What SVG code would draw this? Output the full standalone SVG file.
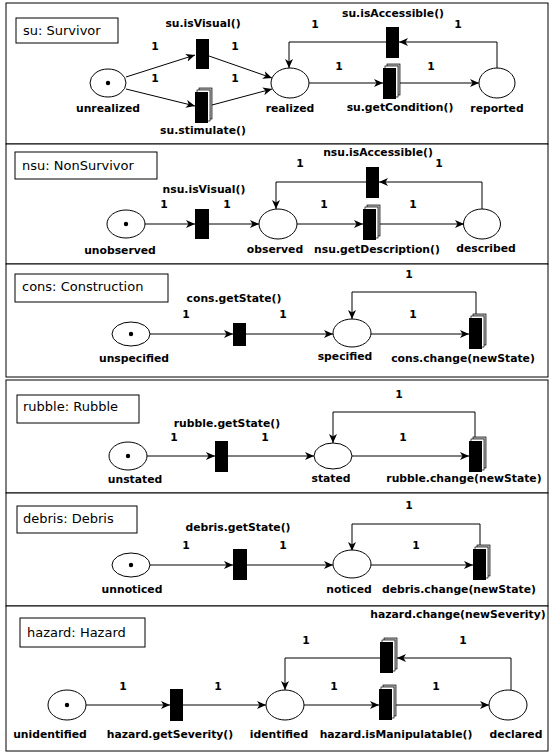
<svg xmlns="http://www.w3.org/2000/svg" xmlns:xlink="http://www.w3.org/1999/xlink" width="552" height="754" viewBox="0 0 552 754">
<style>
.panel{fill:#fff;stroke:#000;stroke-width:1}
.title{fill:#fff;stroke:#000;stroke-width:1}
.tt{font-family:"DejaVu Sans",sans-serif;font-size:13px;fill:#000}
.pl{fill:#fff;stroke:#000;stroke-width:1}
.tok{fill:#000}
.tr{fill:#000}
.lb{font-family:"DejaVu Sans",sans-serif;font-size:10.8px;font-weight:bold;fill:#000;text-anchor:middle}
.w{font-family:"DejaVu Sans",sans-serif;font-size:10.8px;font-weight:bold;fill:#000;text-anchor:middle}
.e{fill:none;stroke:#000;stroke-width:1;marker-end:url(#ah)}
</style>
<defs>
<marker id="ah" markerUnits="userSpaceOnUse" markerWidth="10" markerHeight="8" refX="9" refY="4" orient="auto">
<path d="M0,0 L9,4 L0,8 L2.5,4 z" fill="#000"/>
</marker>
<g id="stack">
<rect x="4" y="-4" width="13" height="31" fill="#bbb" stroke="#000" stroke-width="0.7"/>
<rect x="2" y="-2" width="13" height="31" fill="#fff" stroke="#000" stroke-width="0.7"/>
<rect x="0" y="0" width="13" height="31" fill="#000"/>
</g>
</defs>
<rect width="552" height="754" fill="#fff"/>
<g id="panels">
<rect class="panel" x="6" y="3" width="542" height="141"/>
<rect class="panel" x="6" y="144" width="542" height="120"/>
<rect class="panel" x="6" y="264" width="542" height="113"/>
<rect class="panel" x="6" y="380" width="542" height="113"/>
<rect class="panel" x="6" y="493" width="542" height="113"/>
<rect class="panel" x="6" y="606" width="542" height="145"/>
</g>
<g id="connectors">
<path class="e" d="M126,77 L195,55"/>
<path class="e" d="M126,89 L195,106"/>
<path class="e" d="M209,56 L272,78"/>
<path class="e" d="M212,105 L272,89"/>
<path class="e" d="M309,83 H383"/>
<path class="e" d="M400,83 H479"/>
<path class="e" d="M497,68 V42 H399"/>
<path class="e" d="M386,42 H289 V68"/>
<path class="e" d="M145,224 H195"/>
<path class="e" d="M209,224 H259"/>
<path class="e" d="M297,224 H363"/>
<path class="e" d="M380,224 H464"/>
<path class="e" d="M482,209 V182 H379"/>
<path class="e" d="M366,182 H276 V209"/>
<path class="e" d="M150,334 H233"/>
<path class="e" d="M246,334 H333"/>
<path class="e" d="M371,334 H469"/>
<path class="e" d="M476,314 V292 H352 V319"/>
<path class="e" d="M147,456 H215"/>
<path class="e" d="M228,456 H314"/>
<path class="e" d="M352,456 H469"/>
<path class="e" d="M475,437 V412 H333 V443"/>
<path class="e" d="M150,565 H233"/>
<path class="e" d="M247,565 H333"/>
<path class="e" d="M371,565 H473"/>
<path class="e" d="M480,545 V524 H352 V551"/>
<path class="e" d="M86,705 H170"/>
<path class="e" d="M183,705 H266"/>
<path class="e" d="M304,705 H379"/>
<path class="e" d="M396,705 H489"/>
<path class="e" d="M511,690 V658 H397"/>
<path class="e" d="M380,658 H285 V690"/>
</g>
<g id="weights">
<text class="w" x="155" y="50">1</text><text class="w" x="235" y="50">1</text>
<text class="w" x="155" y="82">1</text><text class="w" x="235" y="82">1</text>
<text class="w" x="315" y="28">1</text><text class="w" x="458" y="28">1</text>
<text class="w" x="339" y="70">1</text><text class="w" x="431" y="70">1</text>
<text class="w" x="164" y="208">1</text><text class="w" x="227" y="208">1</text>
<text class="w" x="324" y="208">1</text><text class="w" x="413" y="208">1</text>
<text class="w" x="300" y="167">1</text><text class="w" x="439" y="167">1</text>
<text class="w" x="186" y="318">1</text><text class="w" x="283" y="318">1</text>
<text class="w" x="413" y="318">1</text><text class="w" x="409" y="278">1</text>
<text class="w" x="174" y="441">1</text><text class="w" x="265" y="441">1</text>
<text class="w" x="403" y="441">1</text><text class="w" x="399" y="398">1</text>
<text class="w" x="186" y="549">1</text><text class="w" x="283" y="549">1</text>
<text class="w" x="416" y="549">1</text><text class="w" x="409" y="509">1</text>
<text class="w" x="123" y="690">1</text><text class="w" x="218" y="690">1</text>
<text class="w" x="334" y="690">1</text><text class="w" x="436" y="690">1</text>
<text class="w" x="306" y="644">1</text><text class="w" x="463" y="644">1</text>
</g>
<g id="su">
<rect class="title" x="16" y="18" width="102" height="25"/><text class="tt" x="23" y="35">su: Survivor</text>
</g>
<g id="su-unrealized"><ellipse class="pl" cx="108" cy="83" rx="18" ry="14"/><circle class="tok" cx="108" cy="83" r="2.2"/><text class="lb" x="108" y="112">unrealized</text></g>
<g id="su-isVisual"><rect class="tr" x="196" y="39" width="13" height="30"/><text class="lb" x="203" y="27">su.isVisual()</text></g>
<g id="su-stimulate"><use xlink:href="#stack" x="195" y="92"/><text class="lb" x="203" y="134">su.stimulate()</text></g>
<g id="su-realized"><ellipse class="pl" cx="290" cy="83" rx="19" ry="15"/><text class="lb" x="290" y="112">realized</text></g>
<g id="su-getCondition"><use xlink:href="#stack" x="383" y="68"/><text class="lb" x="400" y="111">su.getCondition()</text></g>
<g id="su-reported"><ellipse class="pl" cx="497" cy="83" rx="18" ry="15"/><text class="lb" x="497" y="112">reported</text></g>
<g id="su-isAccessible"><rect class="tr" x="386" y="27" width="13" height="31"/><text class="lb" x="393" y="17">su.isAccessible()</text></g>

<g id="nsu">
<rect class="title" x="15" y="152" width="142" height="27"/><text class="tt" x="22" y="170">nsu: NonSurvivor</text>
</g>
<g id="nsu-unobserved"><ellipse class="pl" cx="126" cy="224" rx="19" ry="14"/><circle class="tok" cx="126" cy="224" r="2.2"/><text class="lb" x="120" y="254">unobserved</text></g>
<g id="nsu-isVisual"><rect class="tr" x="195" y="209" width="14" height="30"/><text class="lb" x="204" y="193">nsu.isVisual()</text></g>
<g id="nsu-observed"><ellipse class="pl" cx="278" cy="224" rx="19" ry="15"/><text class="lb" x="275" y="253">observed</text></g>
<g id="nsu-getDescription"><use xlink:href="#stack" x="363" y="209"/><text class="lb" x="377" y="253">nsu.getDescription()</text></g>
<g id="nsu-described"><ellipse class="pl" cx="482" cy="224" rx="18.5" ry="15"/><text class="lb" x="486" y="252">described</text></g>
<g id="nsu-isAccessible"><rect class="tr" x="366" y="167" width="13" height="31"/><text class="lb" x="378" y="156">nsu.isAccessible()</text></g>

<g id="cons">
<rect class="title" x="15" y="274" width="153" height="28"/><text class="tt" x="22" y="291">cons: Construction</text>
</g>
<g id="cons-unspecified"><ellipse class="pl" cx="131" cy="334" rx="19" ry="12"/><circle class="tok" cx="131" cy="334" r="2.2"/><text class="lb" x="134" y="362">unspecified</text></g>
<g id="cons-getState"><rect class="tr" x="233" y="323" width="13" height="23"/><text class="lb" x="234" y="302">cons.getState()</text></g>
<g id="cons-specified"><ellipse class="pl" cx="352" cy="333" rx="19" ry="14"/><text class="lb" x="345" y="360">specified</text></g>
<g id="cons-change"><use xlink:href="#stack" x="469" y="318"/><text class="lb" x="463" y="362">cons.change(newState)</text></g>

<g id="rubble">
<rect class="title" x="17" y="395" width="122" height="28"/><text class="tt" x="23" y="411">rubble: Rubble</text>
</g>
<g id="rubble-unstated"><ellipse class="pl" cx="128" cy="456" rx="19" ry="14"/><circle class="tok" cx="128" cy="456" r="2.2"/><text class="lb" x="135" y="483">unstated</text></g>
<g id="rubble-getState"><rect class="tr" x="215" y="441" width="13" height="31"/><text class="lb" x="227" y="427">rubble.getState()</text></g>
<g id="rubble-stated"><ellipse class="pl" cx="333" cy="456" rx="19" ry="13"/><text class="lb" x="331" y="482">stated</text></g>
<g id="rubble-change"><use xlink:href="#stack" x="469" y="441"/><text class="lb" x="464" y="482">rubble.change(newState)</text></g>

<g id="debris">
<rect class="title" x="17" y="506" width="120" height="27"/><text class="tt" x="23" y="523">debris: Debris</text>
</g>
<g id="debris-unnoticed"><ellipse class="pl" cx="131" cy="565" rx="19" ry="12"/><circle class="tok" cx="131" cy="565" r="2.2"/><text class="lb" x="132" y="593">unnoticed</text></g>
<g id="debris-getState"><rect class="tr" x="233" y="549" width="14" height="31"/><text class="lb" x="238" y="531">debris.getState()</text></g>
<g id="debris-noticed"><ellipse class="pl" cx="352" cy="564" rx="19" ry="14"/><text class="lb" x="349" y="593">noticed</text></g>
<g id="debris-change"><use xlink:href="#stack" x="473" y="549"/><text class="lb" x="459" y="593">debris.change(newState)</text></g>

<g id="hazard">
<rect class="title" x="20" y="618" width="125" height="29"/><text class="tt" x="27" y="637">hazard: Hazard</text>
</g>
<g id="hazard-unidentified"><ellipse class="pl" cx="67" cy="705" rx="19" ry="15"/><circle class="tok" cx="67" cy="705" r="2.2"/><text class="lb" x="50" y="738">unidentified</text></g>
<g id="hazard-getSeverity"><rect class="tr" x="170" y="689" width="13" height="32"/><text class="lb" x="170" y="738">hazard.getSeverity()</text></g>
<g id="hazard-identified"><ellipse class="pl" cx="285" cy="705" rx="19" ry="15"/><text class="lb" x="279" y="738">identified</text></g>
<g id="hazard-isManipulatable"><use xlink:href="#stack" x="379" y="689"/><text class="lb" x="396" y="738">hazard.isManipulatable()</text></g>
<g id="hazard-declared"><ellipse class="pl" cx="508" cy="705" rx="19" ry="15"/><text class="lb" x="516" y="738">declared</text></g>
<g id="hazard-change"><use xlink:href="#stack" x="380" y="642"/><text class="lb" x="458" y="618">hazard.change(newSeverity)</text></g>
</svg>
